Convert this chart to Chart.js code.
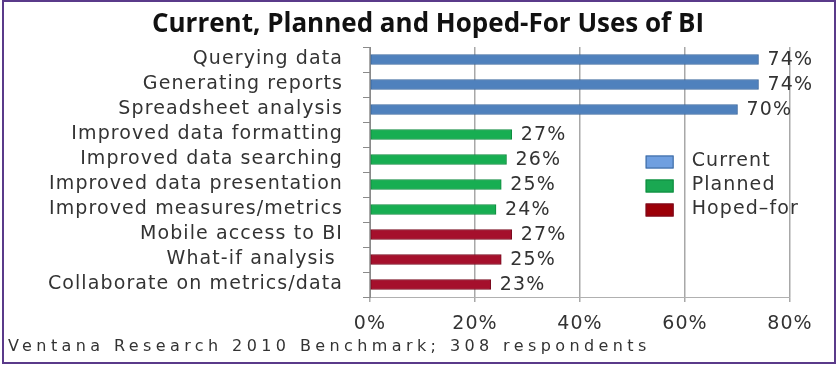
<!DOCTYPE html>
<html>
<head>
<meta charset="utf-8">
<script src="https://cdn.jsdelivr.net/npm/chart.js@4.4.1/dist/chart.umd.min.js"></script>
<style>
  html, body { margin: 0; padding: 0; background: #fff; }
  #wrap { position: relative; width: 838px; height: 368px; }
  #frame {
    position: absolute; left: 2px; top: 0px; width: 830px; height: 360px;
    border: 2px solid #5a3a8a; pointer-events: none;
  }
  #title {
    position: absolute; left: 0; width: 856px; top: 5px; text-align: center;
    font: bold 26px "Open Sans", sans-serif; line-height: 34px; color: #111;
    white-space: nowrap;
  }
  #source {
    position: absolute; left: 8px; top: 336px;
    font: 16px "DejaVu Sans", sans-serif; color: #333; letter-spacing: 4.4px;
    white-space: nowrap;
  }
</style>
</head>
<body>
<div id="wrap">
  <canvas id="biChart" width="838" height="368"></canvas>
  <div id="frame"></div>
  <div id="title">Current, Planned and Hoped-For Uses of BI</div>
  <div id="source">Ventana Research 2010 Benchmark; 308 respondents</div>
</div>
<script>
const categories = [
    "Querying data",
    "Generating reports",
    "Spreadsheet analysis",
    "Improved data formatting",
    "Improved data searching",
    "Improved data presentation",
    "Improved measures/metrics",
    "Mobile access to BI",
    "What-if analysis ",
    "Collaborate on metrics/data",
];
const currentValues = [74, 74, 70, null, null, null, null, null, null, null];
const plannedValues = [null, null, null, 27, 26, 25, 24, null, null, null];
const hopedValues = [null, null, null, null, null, null, null, 27, 25, 23];
const xTicks = [0, 20, 40, 60, 80];

const labelFont = '19px "DejaVu Sans", sans-serif';
const spacing = "1.1px";

// the picture's text is spread wide, so keep a letter spacing on the canvas
const wideText = {
    id: "wideText",
    beforeLayout(chart) { chart.ctx.letterSpacing = spacing; },
    beforeDraw(chart) { chart.ctx.letterSpacing = spacing; },
};

// value labels at the end of each bar
const barLabels = {
    id: "barLabels",
    afterDatasetsDraw(chart) {
        const ctx = chart.ctx;
        ctx.save();
        ctx.font = labelFont;
        ctx.fillStyle = "#333";
        ctx.textBaseline = "middle";
        chart.data.datasets.forEach((ds, i) => {
            chart.getDatasetMeta(i).data.forEach((bar, j) => {
                if (ds.data[j] == null) return;
                ctx.fillText(ds.data[j] + "%", bar.x + 9, bar.y + 1);
            });
        });
        ctx.restore();
    },
};

// legend drawn inside the plot, right side
const innerLegend = {
    id: "innerLegend",
    afterDraw(chart) {
        const ctx = chart.ctx;
        const x = chart.scales.x.getPixelForValue(52.5);
        let y = chart.scales.y.getPixelForValue(4) + 2;
        ctx.save();
        ctx.font = labelFont;
        ctx.textBaseline = "middle";
        chart.data.datasets.forEach((ds) => {
            ctx.fillStyle = ds.legendColor;
            ctx.fillRect(x, y - 6, 28, 13);
            ctx.strokeStyle = ds.borderColor;
            ctx.lineWidth = 1;
            ctx.strokeRect(x + 0.5, y - 5.5, 27, 12);
            ctx.fillStyle = "#333";
            ctx.fillText(ds.label, x + 46, y);
            y += 24;
        });
        ctx.restore();
    },
};

const ctx = document.getElementById("biChart").getContext("2d");
const biChart = new Chart(ctx, {
    type: "bar",
    data: {
        labels: categories,
        datasets: [
            {
                label: "Current",
                data: currentValues,
                backgroundColor: "#4f81bd",
                borderColor: "#3a679e",
                legendColor: "#6f9fe0",
                borderWidth: 1,
                borderSkipped: false,
            },
            {
                label: "Planned",
                data: plannedValues,
                backgroundColor: "#17ae52",
                borderColor: "#0f8a3e",
                legendColor: "#1aa852",
                borderWidth: 1,
                borderSkipped: false,
            },
            {
                label: "Hoped\u2013for",
                data: hopedValues,
                backgroundColor: "#a5102c",
                borderColor: "#780a1e",
                legendColor: "#9c0008",
                borderWidth: 1,
                borderSkipped: false,
            },
        ],
    },
    options: {
        indexAxis: "y",
        responsive: false,
        animation: false,
        barThickness: 10,
        layout: { padding: { left: 0, right: 48, top: 47, bottom: 31 } },
        plugins: {
            legend: { display: false },
            tooltip: { enabled: false },
            title: { display: false },
        },
        scales: {
            x: {
                min: 0,
                max: 80,
                afterBuildTicks: (scale) => {
                    scale.ticks = xTicks.map((v) => ({ value: v }));
                },
                afterFit: (scale) => { scale.height = 40; },
                ticks: {
                    color: "#333",
                    padding: 11,
                    font: { family: "DejaVu Sans", size: 19 },
                    callback: (v) => v + "%",
                },
                grid: { color: "#a8a8a8", lineWidth: 1.5, tickLength: 5 },
                border: { display: true, color: "#b0b0b0", width: 1 },
            },
            y: {
                stacked: true,
                afterFit: (scale) => { scale.width = 370; },
                ticks: {
                    color: "#333",
                    padding: 20,
                    autoSkip: false,
                    font: { family: "DejaVu Sans", size: 19 },
                },
                grid: {
                    offset: true,
                    drawOnChartArea: false,
                    tickLength: 7,
                    color: "#8a8a8a",
                },
                border: { display: true, color: "#8a8a8a", width: 1 },
            },
        },
    },
    plugins: [wideText, barLabels, innerLegend],
});
</script>
</body>
</html>
